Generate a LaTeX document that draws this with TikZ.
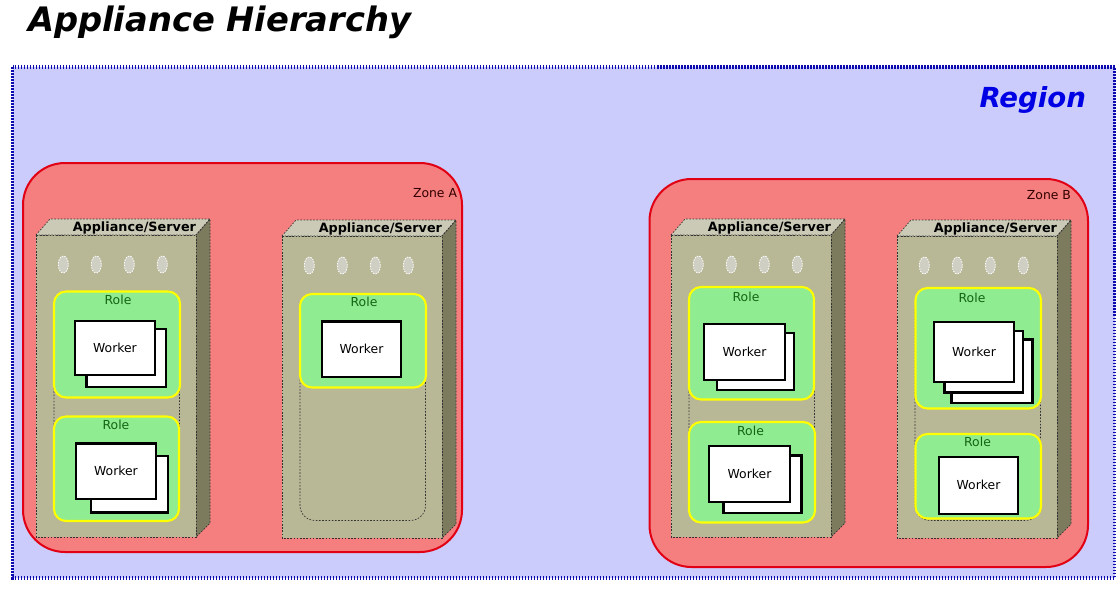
\documentclass[tikz,border=0pt]{standalone}
\usepackage{fontspec}
\setmainfont{DejaVu Sans}
\usetikzlibrary{shapes.geometric}
\definecolor{regfill}{RGB}{204,204,252}
\definecolor{regline}{RGB}{10,10,175}
\definecolor{regtext}{RGB}{0,0,228}
\definecolor{zonefill}{RGB}{245,126,126}
\definecolor{zoneline}{RGB}{225,0,20}
\definecolor{zonetext}{RGB}{50,0,0}
\definecolor{appfront}{RGB}{184,183,150}
\definecolor{apptop}{RGB}{203,202,182}
\definecolor{appside}{RGB}{124,123,94}
\definecolor{ledfill}{RGB}{208,207,196}
\definecolor{rolefill}{RGB}{144,236,144}
\definecolor{roleline}{RGB}{255,255,0}
\definecolor{roletext}{RGB}{20,100,20}
\tikzset{
  titletxt/.style={font=\fontsize{33.7}{40}\selectfont\bfseries\itshape, text=black},
  regiontxt/.style={font=\fontsize{27.6}{32}\selectfont\bfseries\itshape, text=regtext},
  regionbox/.style={fill=regfill, draw=regline, line width=3.2pt, dash pattern=on 1.5pt off 1.5pt},
  zonebox/.style={fill=zonefill, draw=zoneline, line width=2pt, rounded corners=42pt},
  zonetxt/.style={font=\fontsize{12.4}{14}\selectfont, text=zonetext},
  appline/.style={draw=black!80, line width=0.7pt, dash pattern=on 1.6pt off 1.6pt},
  applbl/.style={font=\fontsize{12.8}{14}\selectfont\bfseries, text=black},
  led/.style={ellipse, fill=ledfill, draw=white, line width=0.8pt, dash pattern=on 1.5pt off 1.2pt, minimum width=10pt, minimum height=17pt},
  slotbox/.style={draw=black!80, line width=0.7pt, dash pattern=on 1.6pt off 1.6pt, rounded corners=15pt},
  rolebox/.style={fill=rolefill, draw=roleline, line width=2.1pt, rounded corners=12pt},
  roletxt/.style={font=\fontsize{12.4}{14}\selectfont, text=roletext},
  workerbox/.style={fill=white, draw=black, line width=2.1pt},
  workertxt/.style={font=\fontsize{12.4}{14}\selectfont, text=black},
  pics/appliance/.style={code={
    \fill[apptop] (0,0) -- (14,-16) -- (174,-16) -- (160,0) -- cycle;
    \fill[appside] (160,0) -- (174,-16) -- (174,288) -- (160,302) -- cycle;
    \fill[appfront] (0,0) rectangle (160,302);
    \draw[appline] (0,0) -- (14,-16) -- (174,-16) -- (160,0) -- cycle;
    \draw[appline] (160,0) -- (174,-16) -- (174,288) -- (160,302);
    \draw[appline] (0,0) rectangle (160,302);
    \node[applbl, anchor=base east] (-lbl) at (160,-3.5) {#1};
    \node[led] (-l1) at (27.3,29.5) {};
    \node[led] (-l2) at (60.3,29.5) {};
    \node[led] (-l3) at (93.3,29.5) {};
    \node[led] (-l4) at (126.3,29.5) {};
    \draw[slotbox] (18,58) rectangle (143.5,284.5);
  }}
}
\begin{document}
\begin{tikzpicture}[x=1pt,y=-1pt, every node/.style={inner sep=0pt, outer sep=0pt}]
\useasboundingbox (0,0) rectangle (1119,592);
\node[titletxt, anchor=base west] (title) at (28,31.5) {Appliance Hierarchy};
% region
\draw[regionbox] (12.5,67) rectangle (1114.5,578);
\node[regiontxt, anchor=base east] (region) at (1086,107.5) {Region};
% zones
\draw[zonebox] (23,163) rectangle (462,552);
\node[zonetxt, anchor=base east] (zoneA) at (457,197.5) {Zone A};
\draw[zonebox] (649.5,179) rectangle (1088,567);
\node[zonetxt, anchor=base east] (zoneB) at (1071,199) {Zone B};
% appliances
\pic (a1) at (36,235) {appliance={Appliance/Server}};
\pic (a2) at (282,236) {appliance={Appliance/Server}};
\pic (b1) at (671,235) {appliance={Appliance/Server}};
\pic (b2) at (897,236) {appliance={Appliance/Server}};
% ---- A1 roles
\draw[rolebox] (54,291.5) rectangle (180,397.5);
\node[roletxt, anchor=base] (a1r1) at (118,304) {Role};
\draw[workerbox] (86.5,329) rectangle (166,387);
\draw[workerbox] (75,321) rectangle (155,375);
\node[workertxt] (a1w1) at (115,348) {Worker};
\draw[rolebox] (54,416.5) rectangle (179,521);
\node[roletxt, anchor=base] (a1r2) at (116,429) {Role};
\draw[workerbox] (91,456) rectangle (168,512.5);
\draw[workerbox] (76,443.5) rectangle (156,499);
\node[workertxt] (a1w2) at (116,471) {Worker};
% ---- A2 role
\draw[rolebox] (300,294) rectangle (426,387.5);
\node[roletxt, anchor=base] (a2r1) at (364,306) {Role};
\draw[workerbox] (322,321.5) rectangle (401,377);
\node[workertxt] (a2w1) at (361.5,349) {Worker};
% ---- B1 roles
\draw[rolebox] (689,287) rectangle (814,399.5);
\node[roletxt, anchor=base] (b1r1) at (746,301) {Role};
\draw[workerbox] (717,333) rectangle (794,390);
\draw[workerbox] (704,324) rectangle (785,380);
\node[workertxt] (b1w1) at (744.5,352) {Worker};
\draw[rolebox] (689,422) rectangle (815,522.5);
\node[roletxt, anchor=base] (b1r2) at (750.5,435) {Role};
\draw[workerbox] (723.5,455.5) rectangle (801.5,513);
\draw[workerbox] (709,446) rectangle (790,502);
\node[workertxt] (b1w2) at (749.5,474) {Worker};
% ---- B2 roles
\draw[rolebox] (915.5,288) rectangle (1041,408.5);
\node[roletxt, anchor=base] (b2r1) at (972,302) {Role};
\draw[workerbox] (951.5,339.5) rectangle (1032.5,403);
\draw[workerbox] (944.5,331) rectangle (1023,392.5);
\draw[workerbox] (934,322) rectangle (1014,382);
\node[workertxt] (b2w1) at (974,352) {Worker};
\draw[rolebox] (915.5,434) rectangle (1041,518.5);
\node[roletxt, anchor=base] (b2r2) at (977.5,446) {Role};
\draw[workerbox] (939,457) rectangle (1018,514);
\node[workertxt] (b2w2) at (978.5,485) {Worker};
\end{tikzpicture}
\end{document}
